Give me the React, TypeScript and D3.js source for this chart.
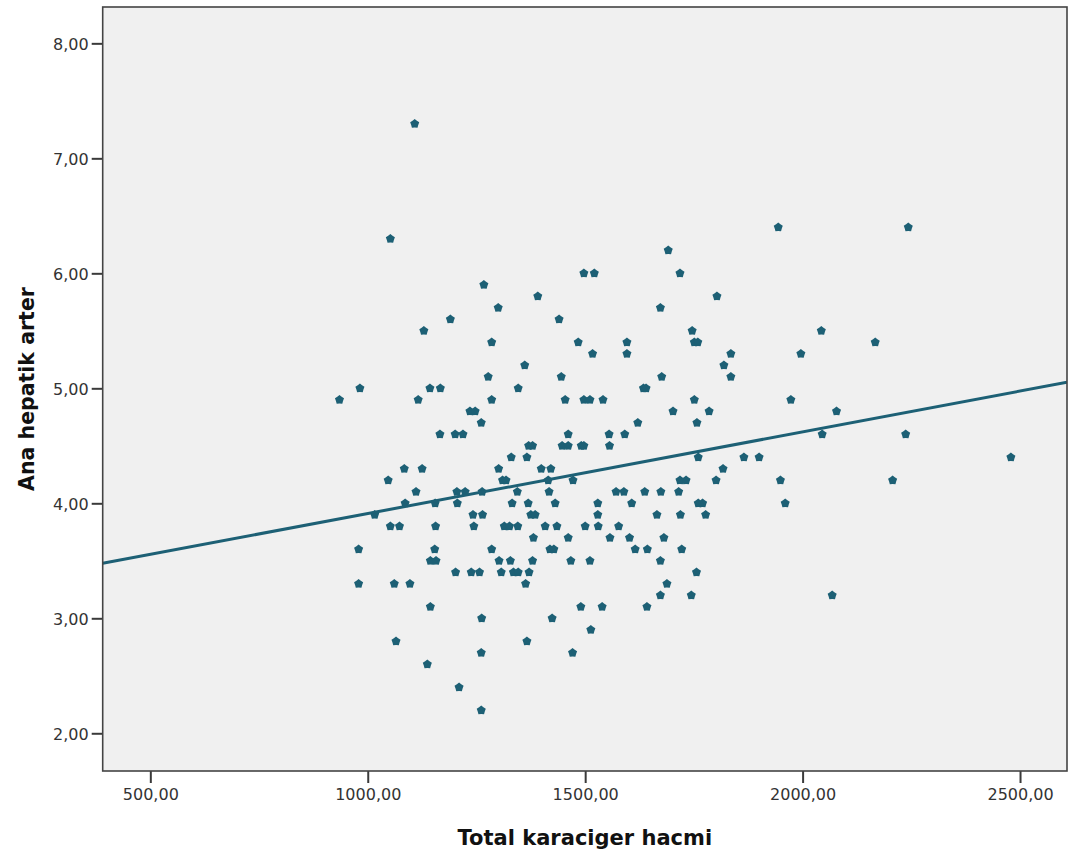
import React, { useEffect, useRef } from 'react'
import * as d3 from 'd3'

// Total karaciger hacmi (x) and Ana hepatik arter (y)
const liverVolume = [
  1108, 1052, 1267, 1391, 1300, 1190, 1129, 1285, 1361, 1277, 982, 1143, 1167, 1346, 935, 1116, 1285,
  1235, 1247, 1261, 1166, 1201, 1219, 1370, 1379, 1330, 1366, 1084, 1125, 1301, 1399, 1421, 1047, 1310,
  1318, 1415, 1111, 1205, 1224, 1263, 1344, 1417, 1086, 1155, 1206, 1332, 1369, 1016, 1242, 1264, 1375,
  1385, 1052, 1073, 1156, 1244, 1314, 1326, 1345, 1408, 1381, 979, 1154, 1285, 1419, 1144, 1157, 1302,
  1328, 1379, 1202, 1238, 1257, 1307, 1335, 1346, 1371, 979, 1061, 1097, 1363, 1144, 1262, 1424, 1065,
  1366, 1261, 1137, 1210, 1261,
  1944, 1691, 1497, 1521, 1718, 1803, 1673, 1440, 1746, 1484, 1596, 1751, 1759, 1517, 1596, 1835, 1996,
  1819, 1445, 1676, 1835, 1634, 1640, 1454, 1497, 1511, 1541, 1751, 1973, 1702, 1785, 1621, 1757, 1461,
  1555, 1591, 1447, 1461, 1491, 1497, 1556, 1760, 1865, 1900, 1817,
  1472, 1718, 1732, 1801, 1949, 1571, 1589, 1637, 1674, 1715, 1431, 1529, 1607, 1760, 1770, 1960, 1529,
  1665, 1719, 1777, 1435, 1500, 1530, 1577, 1461, 1557, 1602, 1681, 1428, 1615, 1643, 1722, 1467, 1511,
  1673, 1756, 1688, 1673, 1744, 1490, 1539, 1642, 1513, 1471,
  2243, 2043, 2167, 2078, 2045, 2237, 2479, 2207, 2068,
]
const hepaticArtery = [
  7.3, 6.3, 5.9, 5.8, 5.7, 5.6, 5.5, 5.4, 5.2, 5.1, 5.0, 5.0, 5.0, 5.0, 4.9, 4.9, 4.9,
  4.8, 4.8, 4.7, 4.6, 4.6, 4.6, 4.5, 4.5, 4.4, 4.4, 4.3, 4.3, 4.3, 4.3, 4.3, 4.2, 4.2,
  4.2, 4.2, 4.1, 4.1, 4.1, 4.1, 4.1, 4.1, 4.0, 4.0, 4.0, 4.0, 4.0, 3.9, 3.9, 3.9, 3.9,
  3.9, 3.8, 3.8, 3.8, 3.8, 3.8, 3.8, 3.8, 3.8, 3.7, 3.6, 3.6, 3.6, 3.6, 3.5, 3.5, 3.5,
  3.5, 3.5, 3.4, 3.4, 3.4, 3.4, 3.4, 3.4, 3.4, 3.3, 3.3, 3.3, 3.3, 3.1, 3.0, 3.0, 2.8,
  2.8, 2.7, 2.6, 2.4, 2.2,
  6.4, 6.2, 6.0, 6.0, 6.0, 5.8, 5.7, 5.6, 5.5, 5.4, 5.4, 5.4, 5.4, 5.3, 5.3, 5.3, 5.3,
  5.2, 5.1, 5.1, 5.1, 5.0, 5.0, 4.9, 4.9, 4.9, 4.9, 4.9, 4.9, 4.8, 4.8, 4.7, 4.7, 4.6,
  4.6, 4.6, 4.5, 4.5, 4.5, 4.5, 4.5, 4.4, 4.4, 4.4, 4.3,
  4.2, 4.2, 4.2, 4.2, 4.2, 4.1, 4.1, 4.1, 4.1, 4.1, 4.0, 4.0, 4.0, 4.0, 4.0, 4.0, 3.9,
  3.9, 3.9, 3.9, 3.8, 3.8, 3.8, 3.8, 3.7, 3.7, 3.7, 3.7, 3.6, 3.6, 3.6, 3.6, 3.5, 3.5,
  3.5, 3.4, 3.3, 3.2, 3.2, 3.1, 3.1, 3.1, 2.9, 2.7,
  6.4, 5.5, 5.4, 4.8, 4.6, 4.6, 4.4, 4.2, 3.2,
]

const xTicks = [500, 1000, 1500, 2000, 2500]
const yTicks = [2, 3, 4, 5, 6, 7, 8]
const xDomain = [390.5, 2608]
const yDomain = [1.672, 8.316]

// linear fit line (total)
const fitIntercept = 3.201
const fitSlope = 0.00071

const xTitle = 'Total karaciger hacmi'
const yTitle = 'Ana hepatik arter'

const W = 1072
const H = 857
const plot = { left: 102.7, right: 1067, top: 7, bottom: 771 }
const color = '#1d6075'
const font = '"DejaVu Sans", Verdana, sans-serif'

// SPSS-ish fat star marker
const fatStar = {
  draw(ctx: any, size: number) {
    const r = Math.sqrt(size / 2.2)
    const ri = r * 0.78
    for (let i = 0; i < 10; i++) {
      const a = -Math.PI / 2 + (i * Math.PI) / 5
      const rad = i % 2 ? ri : r
      const px = Math.cos(a) * rad
      const py = Math.sin(a) * rad
      if (i === 0) ctx.moveTo(px, py)
      else ctx.lineTo(px, py)
    }
    ctx.closePath()
  },
}

const fmt = (v: number) => d3.format('.2f')(v).replace('.', ',')

const App = () => {
  const svgRef = useRef<SVGSVGElement>(null)

  useEffect(() => {
    const svg: any = d3.select(svgRef.current)
    svg.selectAll('*').remove()

    const x = d3.scaleLinear(xDomain, [plot.left, plot.right])
    const y = d3.scaleLinear(yDomain, [plot.bottom, plot.top])

    svg.append('rect')
      .attr('width', W).attr('height', H).attr('fill', '#ffffff')

    svg.append('rect')
      .attr('x', plot.left).attr('y', plot.top)
      .attr('width', plot.right - plot.left).attr('height', plot.bottom - plot.top)
      .attr('fill', '#f0f0f0')

    svg.append('defs').append('clipPath').attr('id', 'plotclip')
      .append('rect')
      .attr('x', plot.left).attr('y', plot.top)
      .attr('width', plot.right - plot.left).attr('height', plot.bottom - plot.top)

    // axes
    const xAxis = svg.append('g')
      .attr('transform', `translate(0,${plot.bottom})`)
      .call(d3.axisBottom(x).tickValues(xTicks).tickSize(12).tickPadding(6).tickFormat((d: any) => fmt(d)))
    const yAxis = svg.append('g')
      .attr('transform', `translate(${plot.left},0)`)
      .call(d3.axisLeft(y).tickValues(yTicks).tickSize(11).tickPadding(3).tickFormat((d: any) => fmt(d)))

    for (const ax of [xAxis, yAxis]) {
      ax.select('.domain').remove()
      ax.selectAll('line').attr('stroke', '#3a3a3a').attr('stroke-width', 2)
      ax.selectAll('text')
        .attr('fill', '#333333')
        .style('font-family', font)
        .style('font-size', '16px')
    }
    yAxis.selectAll('text').attr('dy', '0.36em')

    // points
    const pts = liverVolume.map((v, i) => [v, hepaticArtery[i]])
    const sym = d3.symbol().type(fatStar as any).size(50)
    svg.append('g')
      .attr('clip-path', 'url(#plotclip)')
      .selectAll('path')
      .data(pts)
      .join('path')
      .attr('transform', (d: number[]) => `translate(${x(d[0])},${y(d[1])})`)
      .attr('d', sym())
      .attr('fill', color)

    // fit line
    const line = d3.line<number>().x((d) => x(d)).y((d) => y(fitIntercept + fitSlope * d))
    svg.append('path')
      .attr('clip-path', 'url(#plotclip)')
      .datum(xDomain)
      .attr('d', line)
      .attr('fill', 'none')
      .attr('stroke', color)
      .attr('stroke-width', 3)

    // frame
    svg.append('rect')
      .attr('x', plot.left).attr('y', plot.top)
      .attr('width', plot.right - plot.left).attr('height', plot.bottom - plot.top)
      .attr('fill', 'none')
      .attr('stroke', '#444444')
      .attr('stroke-width', 1.6)

    // titles
    svg.append('text')
      .attr('x', (plot.left + plot.right) / 2)
      .attr('y', 845)
      .attr('text-anchor', 'middle')
      .attr('fill', '#111')
      .style('font-family', font)
      .style('font-weight', 'bold')
      .style('font-size', '21px')
      .text(xTitle)

    svg.append('text')
      .attr('transform', `translate(34,${(plot.top + plot.bottom) / 2}) rotate(-90)`)
      .attr('text-anchor', 'middle')
      .attr('fill', '#111')
      .style('font-family', font)
      .style('font-weight', 'bold')
      .style('font-size', '20.5px')
      .text(yTitle)
  }, [])

  return (
    <svg
      ref={svgRef}
      width={W}
      height={H}
      style={{ position: 'absolute', left: 0, top: 0, display: 'block' }}
    />
  )
}

export default App
